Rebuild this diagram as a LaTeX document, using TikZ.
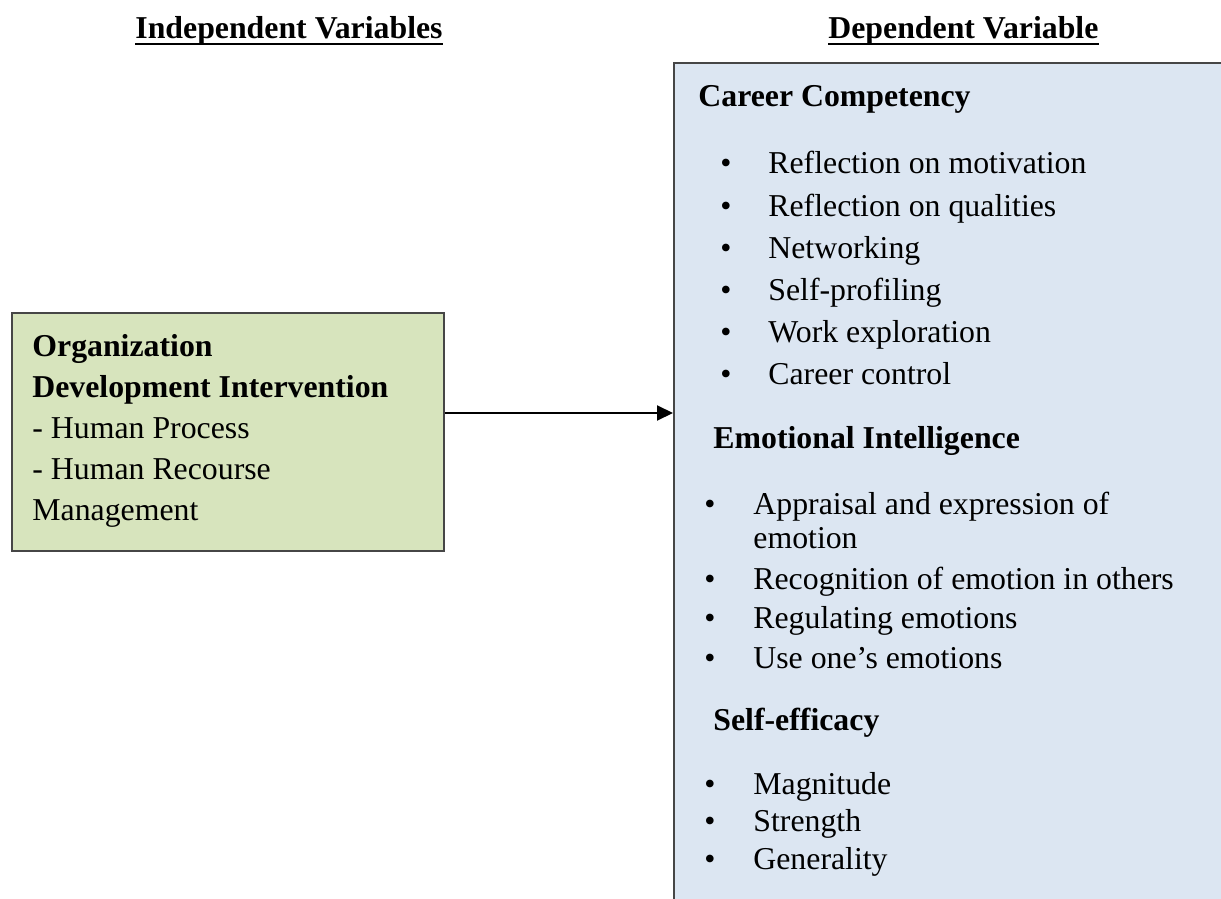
\documentclass[tikz,border=0pt]{standalone}
\usepackage{fontspec}
\setmainfont{Liberation Serif}
\usetikzlibrary{arrows.meta}

\definecolor{idvgreen}{RGB}{215,228,189}
\definecolor{dvblue}{RGB}{220,230,242}
\definecolor{boxline}{RGB}{70,70,70}

\tikzset{
  txt/.style={anchor=base west, inner sep=0pt, font=\fontsize{15.9}{19}\selectfont},
  hdr/.style={txt, font=\fontsize{15.9}{19}\selectfont\bfseries},
  varbox/.style={draw=boxline, line width=1pt, anchor=north west, inner sep=0pt},
}

\begin{document}
\begin{tikzpicture}[x=0.5pt,y=-0.5pt]
\useasboundingbox (0,0) rectangle (1221,899);
\clip (0,0) rectangle (1221,899);

% headings
\node[hdr] (ivhead) at (135,39) {Independent Variables};
\node[hdr] (dvhead) at (828,39) {Dependent Variable};
\draw[line width=1pt] ([yshift=-2.5pt]ivhead.base west) -- ([yshift=-2.5pt]ivhead.base east);
\draw[line width=1pt] ([yshift=-2.5pt]dvhead.base west) -- ([yshift=-2.5pt]dvhead.base east);

% boxes
\node[varbox, fill=idvgreen, minimum width=216pt, minimum height=119pt] (idv) at (11,312) {};
\node[varbox, fill=dvblue, minimum width=300pt, minimum height=440pt] (dv) at (673,62) {};

\draw[line width=1pt, -{Triangle[length=8pt,width=7.5pt]}] (idv.east |- 0,413) -- (dv.west |- 0,413);

% independent variable
\node[hdr] (org) at (32,356) {Organization};
\node[hdr] (odi) at (32,397) {Development Intervention};
\node[txt] (hp) at (32,438) {- Human Process};
\node[txt] (hrm) at (32,479) {- Human Recourse};
\node[txt] (mgt) at (32,520) {Management};

% career competency
\node[hdr] (cc) at (698,107) {Career Competency};
\foreach \y/\t [count=\i] in {174/Reflection on motivation, 216/Reflection on qualities,
  258/Networking, 300/Self-profiling, 342/Work exploration, 384/Career control} {
  \node[txt] (ccb\i) at (720,\y) {•};
  \node[txt] (cc\i) at (768,\y) {\t};
}

% emotional intelligence
\node[hdr] (ei) at (713,448) {Emotional Intelligence};
\node[txt] (eib1) at (704,514) {•};
\node[txt] (ei1) at (753,514) {Appraisal and expression of};
\node[txt] (ei1b) at (753,548) {emotion};
\foreach \y/\t [count=\i from 2] in {589/Recognition of emotion in others,
  628/Regulating emotions, 668/Use one’s emotions} {
  \node[txt] (eib\i) at (704,\y) {•};
  \node[txt] (ei\i) at (753,\y) {\t};
}

% self-efficacy
\node[hdr] (se) at (713,730) {Self-efficacy};
\foreach \y/\t [count=\i] in {794/Magnitude, 831/Strength, 869/Generality} {
  \node[txt] (seb\i) at (704,\y) {•};
  \node[txt] (se\i) at (753,\y) {\t};
}
\end{tikzpicture}
\end{document}
